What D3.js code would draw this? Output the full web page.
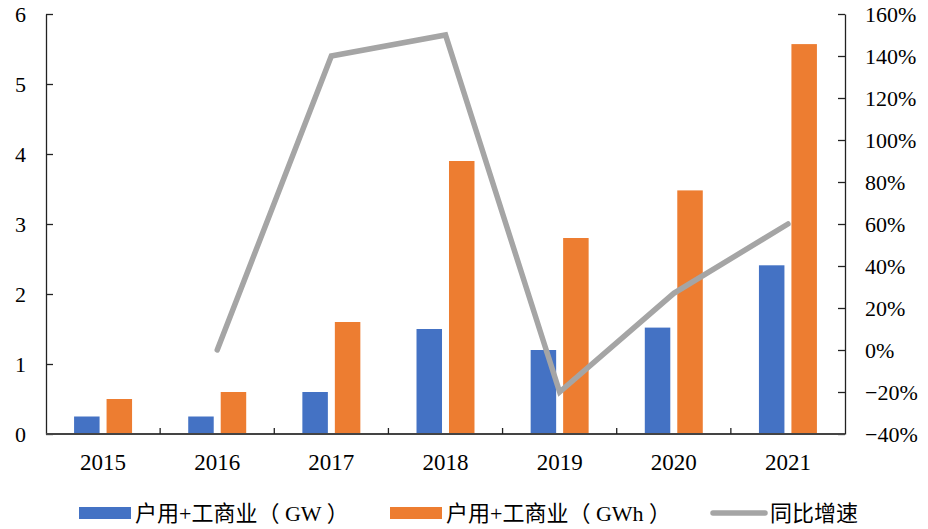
<!DOCTYPE html>
<html>
<head>
<meta charset="utf-8">
<script src="https://cdn.jsdelivr.net/npm/d3@7/dist/d3.min.js"></script>
<style>
  html, body { margin: 0; padding: 0; background: #fff; }
  svg { display: block; }
  text { font-family: "Liberation Serif", "Noto Sans CJK SC", serif; fill: #000; white-space: pre; }
</style>
</head>
<body>
<svg id="chart" width="928" height="529"></svg>
<script>
// Categories and series
const years = ["2015", "2016", "2017", "2018", "2019", "2020", "2021"];
const capacityGW = [0.25, 0.25, 0.6, 1.5, 1.2, 1.52, 2.41];
const capacityGWh = [0.5, 0.6, 1.6, 3.9, 2.8, 3.48, 5.57];
const growthYoY = [null, 0.0, 1.40, 1.50, -0.20, 0.27, 0.60];
const leftTicks = [0, 1, 2, 3, 4, 5, 6];
const rightTicks = [-0.4, -0.2, 0, 0.2, 0.4, 0.6, 0.8, 1.0, 1.2, 1.4, 1.6];
const seriesNames = ["户用+工商业（ GW ）", "户用+工商业（ GWh ）", "同比增速"];
const colors = ["#4472c4", "#ed7d31", "#a5a5a5"];

const svg = d3.select("#chart");
const plot = { left: 46, right: 845, top: 14, bottom: 434 };

const x = d3.scaleBand().domain(years).range([plot.left, plot.right]).padding(0);
const inner = d3.scaleBand().domain([0, 1])
  .range([x.bandwidth() * 0.246, x.bandwidth() * 0.754]).paddingInner(0.215);
const yL = d3.scaleLinear().domain([0, 6]).range([plot.bottom, plot.top]);
const yR = d3.scaleLinear().domain([-0.4, 1.6]).range([plot.bottom, plot.top]);

// Bars
const barData = years.flatMap((yr, i) => [
  { yr, s: 0, v: capacityGW[i] },
  { yr, s: 1, v: capacityGWh[i] }
]);
svg.append("g").selectAll("rect").data(barData).join("rect")
  .attr("x", d => x(d.yr) + inner(d.s))
  .attr("width", inner.bandwidth())
  .attr("y", d => yL(d.v))
  .attr("height", d => yL(0) - yL(d.v))
  .attr("fill", d => colors[d.s]);

// Left axis
const axL = svg.append("g").attr("transform", `translate(${plot.left},0)`)
  .call(d3.axisLeft(yL).tickValues(leftTicks).tickFormat(d3.format("d"))
    .tickSizeInner(-7).tickSizeOuter(0).tickPadding(20));
axL.select(".domain").attr("stroke", "#222").attr("stroke-width", 1.3);
axL.selectAll(".tick line").attr("stroke", "#222").attr("stroke-width", 1.3);
axL.selectAll(".tick text").attr("font-size", 22)
  .attr("font-family", "Liberation Serif").attr("fill", "#000");

// Right axis
const axR = svg.append("g").attr("transform", `translate(${plot.right},0)`)
  .call(d3.axisRight(yR).tickValues(rightTicks).tickFormat(d3.format(".0%"))
    .tickSizeInner(-7).tickSizeOuter(0).tickPadding(20));
axR.select(".domain").attr("stroke", "#222").attr("stroke-width", 1.3);
axR.selectAll(".tick line").attr("stroke", "#222").attr("stroke-width", 1.3);
axR.selectAll(".tick text").attr("font-size", 22)
  .attr("font-family", "Liberation Serif").attr("fill", "#000");

// Bottom axis: ticks between categories, labels centred on bands
const axB = svg.append("g").attr("transform", `translate(0,${plot.bottom})`);
axB.append("line").attr("x1", plot.left).attr("x2", plot.right)
  .attr("stroke", "#444").attr("stroke-width", 1.8);
axB.selectAll("line.sep").data(years.slice(1)).join("line").attr("class", "sep")
  .attr("x1", d => x(d)).attr("x2", d => x(d))
  .attr("y1", 0).attr("y2", -6).attr("stroke", "#222").attr("stroke-width", 1.3);
axB.selectAll("text").data(years).join("text")
  .attr("x", d => x(d) + x.bandwidth() / 2).attr("y", 36)
  .attr("text-anchor", "middle").attr("font-size", 23).text(d => d);

// Growth line
const line = d3.line()
  .defined(d => d.v !== null)
  .x(d => x(d.yr) + x.bandwidth() / 2)
  .y(d => yR(d.v));
svg.append("path")
  .datum(years.map((yr, i) => ({ yr, v: growthYoY[i] })))
  .attr("d", line).attr("fill", "none")
  .attr("stroke", colors[2]).attr("stroke-width", 5.5)
  .attr("stroke-linejoin", "miter").attr("stroke-linecap", "round");

// Legend
const legend = svg.append("g");
const legendItems = [
  { x: 79, w: 52, tx: 135 },
  { x: 390, w: 52, tx: 446 },
  { x: 713, w: 52, tx: 770 }
];
legendItems.forEach((it, i) => {
  if (i < 2) {
    legend.append("rect").attr("x", it.x).attr("y", 507).attr("width", it.w).attr("height", 12)
      .attr("fill", colors[i]);
  } else {
    legend.append("line").attr("x1", it.x).attr("x2", it.x + it.w).attr("y1", 513).attr("y2", 513)
      .attr("stroke", colors[i]).attr("stroke-width", 5.5).attr("stroke-linecap", "round");
  }
  legend.append("text").attr("x", it.tx).attr("y", 521)
    .attr("font-size", 22).text(seriesNames[i]);
});
</script>
</body>
</html>
